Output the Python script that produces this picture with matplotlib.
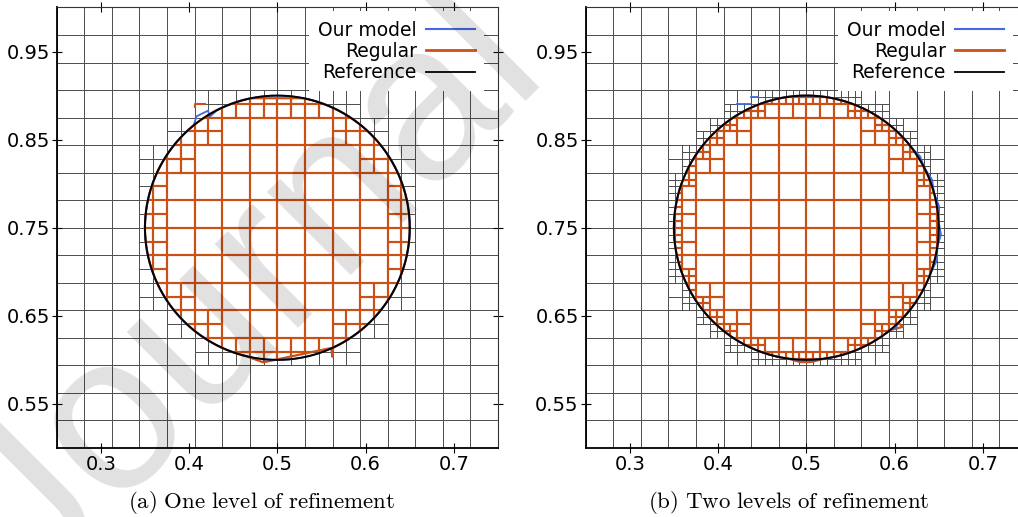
import numpy as np
import matplotlib
matplotlib.use("Agg")
import matplotlib.pyplot as plt
from matplotlib.collections import LineCollection
from matplotlib.lines import Line2D
from matplotlib.patches import Polygon

plt.rcParams['mathtext.fontset'] = 'cm'

# droplet (reference front) and mesh setup
center_x, center_y = 0.5, 0.75
radius = 0.15
base_cells = 32            # coarse cells per unit length
refine_levels = [1, 2]     # panel (a), panel (b)

x_ticks = [0.3, 0.4, 0.5, 0.6, 0.7]
y_ticks = [0.55, 0.65, 0.75, 0.85, 0.95]
captions = ["(a) One level of refinement", "(b) Two levels of refinement"]
legend_labels = ["Our model", "Regular", "Reference"]

# places where the computed fronts leave the exact circle (x, y, counter-clockwise)
regular_dents_a = [
    ([0.465, 0.484, 0.561, 0.5625, 0.5632, 0.570],
     [0.6041, 0.5972, 0.6135, 0.6035, 0.6138, 0.6173]),
    ([0.530, 0.470], [0.897, 0.897]),
]
regular_dents_b = [
    ([0.480, 0.493, 0.505, 0.520], [0.6013, 0.5975, 0.5975, 0.6013]),
    ([0.594, 0.6095, 0.6042], [0.6335, 0.6375, 0.6421]),
]
regular_bits_a = [([0.4068, 0.4068, 0.418], [0.8875, 0.8903, 0.8903])]
regular_bits_b = []

model_dents_a = [
    ([0.432, 0.4228, 0.4217, 0.4085, 0.405], [0.8836, 0.8755, 0.8830, 0.8765, 0.8661]),
]
model_dents_b = [
    ([0.5964, 0.6015, 0.6042], [0.6351, 0.6365, 0.6421]),
    ([0.6410, 0.6480, 0.6485, 0.6526, 0.6498, 0.6506, 0.6449, 0.6424, 0.6337, 0.6291, 0.6198],
     [0.6987, 0.7131, 0.7291, 0.7420, 0.7579, 0.7739, 0.7888, 0.8047, 0.8181, 0.8307, 0.8403]),
]
model_bits_a = []
model_bits_b = [([0.4213, 0.436], [0.8903, 0.8903]), ([0.437, 0.445], [0.898, 0.898])]

BLUE = '#4169e1'
ORANGE = '#cc4f14'


def mesh_cells(levels):
    cells = []

    def visit(x0, y0, h, lev):
        nx = min(max(center_x, x0), x0 + h)
        ny = min(max(center_y, y0), y0 + h)
        dmin = np.hypot(nx - center_x, ny - center_y)
        dmax = max(np.hypot(cx - center_x, cy - center_y)
                   for cx in (x0, x0 + h) for cy in (y0, y0 + h))
        if lev < levels and dmin < radius < dmax:
            h2 = h / 2
            for ox in (0, h2):
                for oy in (0, h2):
                    visit(x0 + ox, y0 + oy, h2, lev + 1)
        else:
            cells.append((x0, y0, h))

    h0 = 1.0 / base_cells
    for i in range(base_cells):
        for j in range(base_cells):
            visit(i * h0, j * h0, h0, 0)
    return cells


def cell_segments(cells):
    segs = []
    for x0, y0, h in cells:
        if x0 + h < 0.24 or x0 > 0.76 or y0 + h < 0.49:
            continue
        segs += [[(x0, y0), (x0 + h, y0)], [(x0, y0 + h), (x0 + h, y0 + h)],
                 [(x0, y0), (x0, y0 + h)], [(x0 + h, y0), (x0 + h, y0 + h)]]
    return segs


def front(dents):
    # circle samples with the dented stretches swapped in
    theta = np.linspace(-np.pi, np.pi, 1441)[:-1]
    keep = np.ones(theta.size, bool)
    blocks = []
    for xs, ys in dents:
        a = [np.arctan2(ys[0] - center_y, xs[0] - center_x),
             np.arctan2(ys[-1] - center_y, xs[-1] - center_x)]
        keep &= ~((theta >= min(a)) & (theta <= max(a)))
        blocks.append((min(a), list(zip(xs, ys))))
    for t in theta[keep]:
        blocks.append((t, [(center_x + radius * np.cos(t), center_y + radius * np.sin(t))]))
    blocks.sort(key=lambda b: b[0])
    pts = [p for _, blk in blocks for p in blk]
    return np.array(pts + [pts[0]])


fig = plt.figure(figsize=(10.18, 5.17), dpi=100)
axes = [fig.add_axes([0.0557, 0.1335, 0.4335, 0.852]),
        fig.add_axes([0.5753, 0.1335, 0.4335, 0.852])]

panels = [(regular_dents_a, regular_bits_a, model_dents_a, model_bits_a),
          (regular_dents_b, regular_bits_b, model_dents_b, model_bits_b)]

for ax, levels, (rd, rb, md, mb) in zip(axes, refine_levels, panels):
    ax.set_facecolor('none')
    segs = cell_segments(mesh_cells(levels))
    ax.add_collection(LineCollection(segs, colors='#4d4d4d', linewidths=0.6, zorder=1))

    regular = front(rd)
    clip = Polygon(regular, closed=True, transform=ax.transData)
    inner = LineCollection(segs, colors=ORANGE, linewidths=1.5, zorder=2)
    inner.set_clip_path(clip)
    ax.add_collection(inner)
    ax.plot(regular[:, 0], regular[:, 1], color=ORANGE, lw=1.6, zorder=3)
    for xs, ys in rb:
        ax.plot(xs, ys, color=ORANGE, lw=1.5, zorder=3)

    model = front(md)
    ax.plot(model[:, 0], model[:, 1], color=BLUE, lw=1.3, zorder=4)
    for xs, ys in mb:
        ax.plot(xs, ys, color=BLUE, lw=1.3, zorder=4)

    t = np.linspace(0, 2 * np.pi, 721)
    ax.plot(center_x + radius * np.cos(t), center_y + radius * np.sin(t),
            color='black', lw=1.4, zorder=5)

    ax.set_xlim(0.25, 0.75)
    ax.set_ylim(0.5, 1.0)
    ax.set_xticks(x_ticks)
    ax.set_yticks(y_ticks)
    ax.set_xticklabels([f"{v:g}" for v in x_ticks])
    ax.set_yticklabels([f"{v:g}" for v in y_ticks])
    ax.tick_params(labelsize=14, direction='inout', length=7, width=0.8, pad=1.5,
                   top=True, right=True)
    for side in ('left', 'bottom'):
        ax.spines[side].set_linewidth(1.3)
    for side in ('top', 'right'):
        ax.spines[side].set_linewidth(0.8)
        ax.spines[side].set_color('#333333')

    handles = [Line2D([], [], color=BLUE, lw=1.5),
               Line2D([], [], color=ORANGE, lw=2),
               Line2D([], [], color='black', lw=1.3)]
    leg = ax.legend(handles, legend_labels, loc='upper right',
                    bbox_to_anchor=(1 - 10 / 441, 1), markerfirst=False,
                    fontsize=13.5, handlelength=2.6, handletextpad=0.5,
                    labelspacing=0.12, borderpad=0.5, borderaxespad=0.2,
                    fancybox=False, framealpha=1, facecolor='white', edgecolor='none')
    leg.set_zorder(10)

fig.text(262 / 1018, 1 - 503 / 517, r'$\mathrm{(a)\ One\ level\ of\ refinement}$',
         ha='center', va='center', fontsize=16.5)
fig.text(789 / 1018, 1 - 503 / 517, r'$\mathrm{(b)\ Two\ levels\ of\ refinement}$',
         ha='center', va='center', fontsize=16.5)

# watermark over the whole page
fig.text(0.034, -0.1375, "Journal", rotation=45, rotation_mode='anchor',
         ha='left', va='baseline', fontsize=160, family='Liberation Sans',
         color='black', alpha=0.12, zorder=20)

fig.savefig("out.png", dpi=100)
